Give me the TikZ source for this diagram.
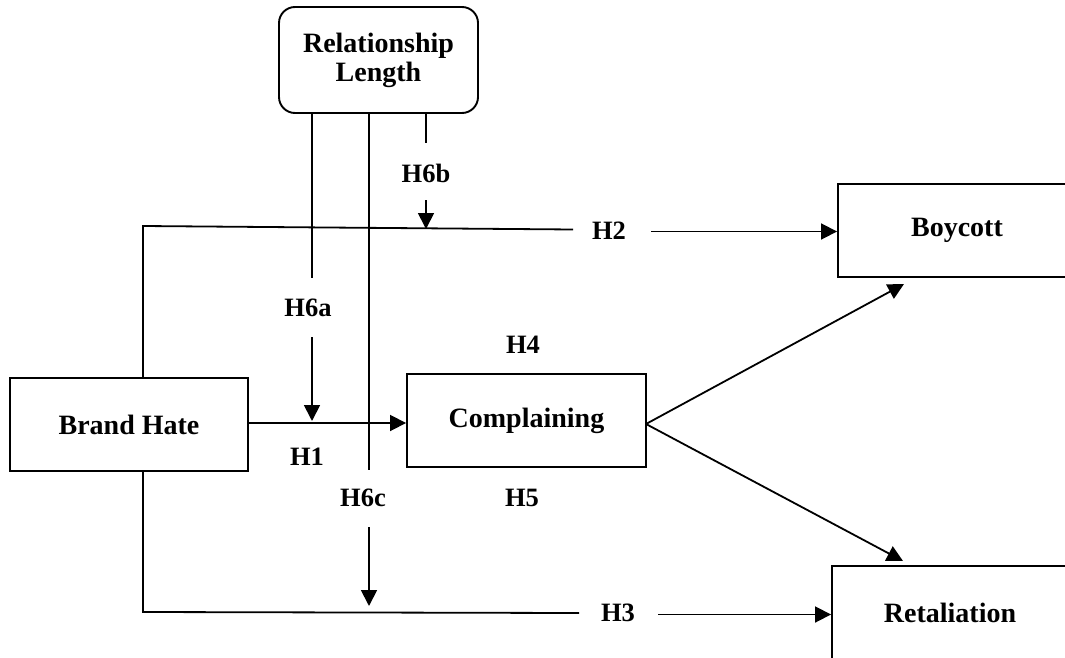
\documentclass[tikz,border=0pt]{standalone}
\usepackage{fontspec}
\setmainfont{Liberation Serif}
\usetikzlibrary{arrows.meta}
\tikzset{
  box/.style={draw, line width=1.9pt, inner sep=0pt, font=\bfseries\fontsize{28}{29}\selectfont, align=center},
  lab/.style={inner sep=0pt, font=\bfseries\fontsize{26.5}{28}\selectfont},
  ln/.style={line width=1.8pt},
  arr/.style={line width=1.8pt, -{Triangle[length=16pt,width=16pt]}}
}
\begin{document}
\begin{tikzpicture}[x=1pt,y=-1pt]
\clip (0,0) rectangle (1065,658);
\fill[white] (0,0) rectangle (1065,658);
% boxes
\node[box, rounded corners=16pt, minimum width=199pt, minimum height=106pt] (rl) at (378.5,60) {Relationship\\Length};
\node[box, minimum width=238pt, minimum height=93pt] (bh) at (129,424.5) {Brand Hate};
\node[box, minimum width=239pt, minimum height=93pt] (co) at (526.5,420.5) {Complaining};
\node[box, minimum width=238pt, minimum height=93pt] (bo) at (957,230.5) {Boycott};
\node[box, minimum width=236pt, minimum height=93pt] (re) at (950,612.5) {Retaliation};
% labels
\node[lab] (h6b) at (426,173) {H6b};
\node[lab] (h6a) at (308,308) {H6a};
\node[lab] (h1) at (307,457) {H1};
\node[lab] (h6c) at (363,498) {H6c};
\node[lab] (h4) at (523,345) {H4};
\node[lab] (h5) at (522,498) {H5};
\node[lab] (h2) at (609,231) {H2};
\node[lab] (h3) at (618,613) {H3};
% coordinates
\coordinate (bhtop) at (143,378);
\coordinate (tcorner) at (143,226);
\coordinate (h2end) at (573,229.5);
\coordinate (h2start) at (651,231.5);
\coordinate (bhbot) at (143,471);
\coordinate (bcorner) at (143,612);
\coordinate (h3end) at (579,613);
\coordinate (h3start) at (658,614.5);
\coordinate (rla) at (312,113);
\coordinate (rlm) at (369,113);
\coordinate (rlb) at (426,113);
\coordinate (h6bA) at (426,143);
\coordinate (h6bB) at (426,200);
\coordinate (h6bT) at (426,229);
\coordinate (h6aA) at (312,278);
\coordinate (h6aB) at (312,337);
\coordinate (h6aT) at (312,421);
\coordinate (midA) at (369,470);
\coordinate (h6cB) at (369,527);
\coordinate (h6cT) at (369,606);
\coordinate (coE) at (646,424);
\coordinate (boT) at (904,284);
\coordinate (reT) at (903,561);
% connectors
\draw[ln] (bhtop) -- (tcorner) -- (h2end);
\draw[arr] (h2start) -- (h2start -| bo.west);
\draw[ln] (bhbot) -- (bcorner) -- (h3end);
\draw[arr] (h3start) -- (h3start -| re.west);
\draw[arr] (bh.east |- 0,423) -- (co.west |- 0,423);
\draw[ln] (rla) -- (h6aA);
\draw[arr] (h6aB) -- (h6aT);
\draw[ln] (rlb) -- (h6bA);
\draw[arr] (h6bB) -- (h6bT);
\draw[ln] (rlm) -- (midA);
\draw[arr] (h6cB) -- (h6cT);
\draw[arr] (coE) -- (boT);
\draw[arr] (coE) -- (reT);
\end{tikzpicture}
\end{document}
